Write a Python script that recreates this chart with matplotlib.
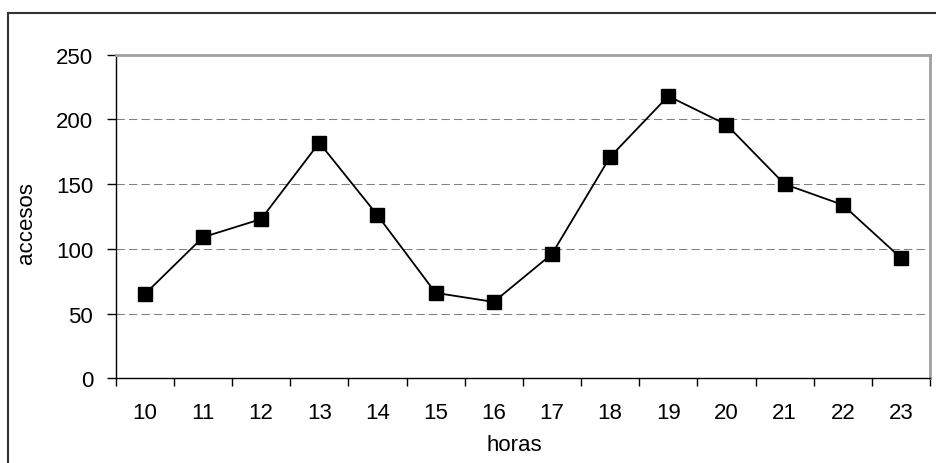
import matplotlib.pyplot as plt
from matplotlib.patches import Rectangle
import numpy as np

horas = ['10', '11', '12', '13', '14', '15', '16', '17', '18', '19', '20', '21', '22', '23']
accesos = [65, 109, 123, 182, 126, 66, 59, 96, 171, 218, 196, 150, 134, 93]
yticks = [0, 50, 100, 150, 200, 250]

plt.rcParams['font.family'] = ['Liberation Sans', 'DejaVu Sans']
plt.rcParams['font.size'] = 16

W, H = 936, 464
fig = plt.figure(figsize=(W / 100, H / 100), dpi=100)
ax = fig.add_axes([115.7 / W, 1 - 379.3 / H, (930 - 115.7) / W, (379.3 - 55.7) / H])

x = np.arange(len(horas))
ax.plot(x, accesos, color='black', lw=1.3, marker='s', markersize=9.5,
        markerfacecolor='black', markeredgecolor='black', zorder=3)

ax.set_xlim(-0.5, len(horas) - 0.5)
ax.set_ylim(0, 250)
ax.set_yticks(yticks)
ax.set_xticks(x)
ax.set_xticklabels(horas)
ax.set_xticks(np.arange(-0.5, len(horas)), minor=True)
ax.tick_params(axis='x', which='major', length=0, pad=17)
ax.tick_params(axis='x', which='minor', length=6, width=1, direction='out')
ax.tick_params(axis='y', length=6.3, width=1, direction='out', pad=10)

for v in yticks[1:-1]:
    ax.axhline(v, color='#808080', lw=0.75, ls=(0, (8, 4)), zorder=1)

for s in ['top', 'right']:
    ax.spines[s].set_color('#a0a0a0')
    ax.spines[s].set_linewidth(2)
for s in ['left', 'bottom']:
    ax.spines[s].set_color('black')
    ax.spines[s].set_linewidth(1)

ax.set_xlabel('horas', va='center')
ax.xaxis.set_label_coords(0.49, (379.3 - 446) / 323.6)
ax.set_ylabel('accesos', va='center')
ax.yaxis.set_label_coords((26 - 115.7) / 814.3, (379.3 - 223.5) / 323.6)

# outer chart frame, open on the right and bottom
fig.patches.append(Rectangle((8 / W, -0.1), 1.2, 1.1 - 14 / H, transform=fig.transFigure,
                             fill=False, edgecolor='#333333', lw=1.5))

fig.savefig('out.png', dpi=100)
